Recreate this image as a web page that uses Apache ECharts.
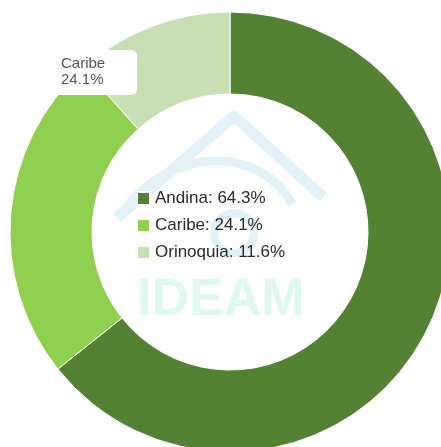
<!DOCTYPE html>
<html>
<head>
<meta charset="utf-8">
<script src="https://cdn.jsdelivr.net/npm/echarts@6/dist/echarts.min.js"></script>
<style>
  html, body { margin: 0; padding: 0; background: #fff; }
  #chart { width: 441px; height: 447px; }
</style>
</head>
<body>
<div id="chart"></div>
<script>
const regions = ['Andina', 'Caribe', 'Orinoquia']
const shares = [64.3, 24.1, 11.6]
const colors = ['#548235', '#8fd14f', '#c6e0b4']

const chart = echarts.init(document.getElementById('chart'))

const font = 'Arial, "Liberation Sans", sans-serif'
const markColor = '#e3f1f9'

// faint logo watermark behind the legend
const watermark = [
  {
    type: 'polyline',
    shape: { points: [[117, 218], [234, 116], [323, 197]] },
    style: { stroke: markColor, lineWidth: 11, fill: null, lineJoin: 'round' },
    z: 0,
  },
  {
    type: 'bezierCurve',
    shape: { x1: 121, y1: 214, x2: 292, y2: 204, cpx1: 170, cpy1: 145, cpx2: 260, cpy2: 145 },
    style: { stroke: markColor, lineWidth: 9, fill: null },
    z: 0,
  },
  {
    type: 'circle',
    shape: { cx: 234, cy: 233, r: 20 },
    style: { stroke: markColor, lineWidth: 8, fill: null },
    z: 0,
  },
  {
    type: 'text',
    left: 137,
    top: 275,
    style: {
      text: 'IDEAM',
      font: 'bold 52px Arial, "Liberation Sans", sans-serif',
      fill: '#def8f2',
    },
    z: 0,
  },
]

chart.setOption({
  backgroundColor: '#fff',
  animation: false,
  color: colors,
  graphic: watermark,
  legend: {
    orient: 'vertical',
    left: 136,
    top: 190,
    padding: 0,
    itemWidth: 13,
    itemHeight: 13,
    itemGap: 10,
    icon: 'rect',
    z: 5,
    data: regions,
    formatter: (name) => name + ': ' + shares[regions.indexOf(name)].toFixed(1) + '%',
    textStyle: { fontSize: 17, lineHeight: 17, fontFamily: font, color: '#2a2a2a' },
  },
  series: [
    {
      type: 'pie',
      center: [230, 232],
      radius: [138, 220],
      startAngle: 90,
      clockwise: true,
      z: 2,
      avoidLabelOverlap: false,
      itemStyle: { borderColor: '#fff', borderWidth: 1 },
      label: { show: false, position: 'inside' },
      labelLine: { show: false },
      emphasis: { disabled: true },
      labelLayout: (p) =>
        p.dataIndex === 1 ? { x: 53, y: 50, align: 'left', verticalAlign: 'top', hideOverlap: false } : {},
      data: regions.map((name, i) => ({
        name,
        value: shares[i],
        label:
          i === 1
            ? {
                show: true,
                position: 'inside',
                formatter: '{b}\n{c}%',
                fontSize: 15,
                lineHeight: 16,
                fontFamily: font,
                color: '#555',
                backgroundColor: '#fff',
                borderRadius: 6,
                padding: [6, 32, 7, 8],
                align: 'left',
              }
            : { show: false },
      })),
    },
  ],
})
</script>
</body>
</html>
